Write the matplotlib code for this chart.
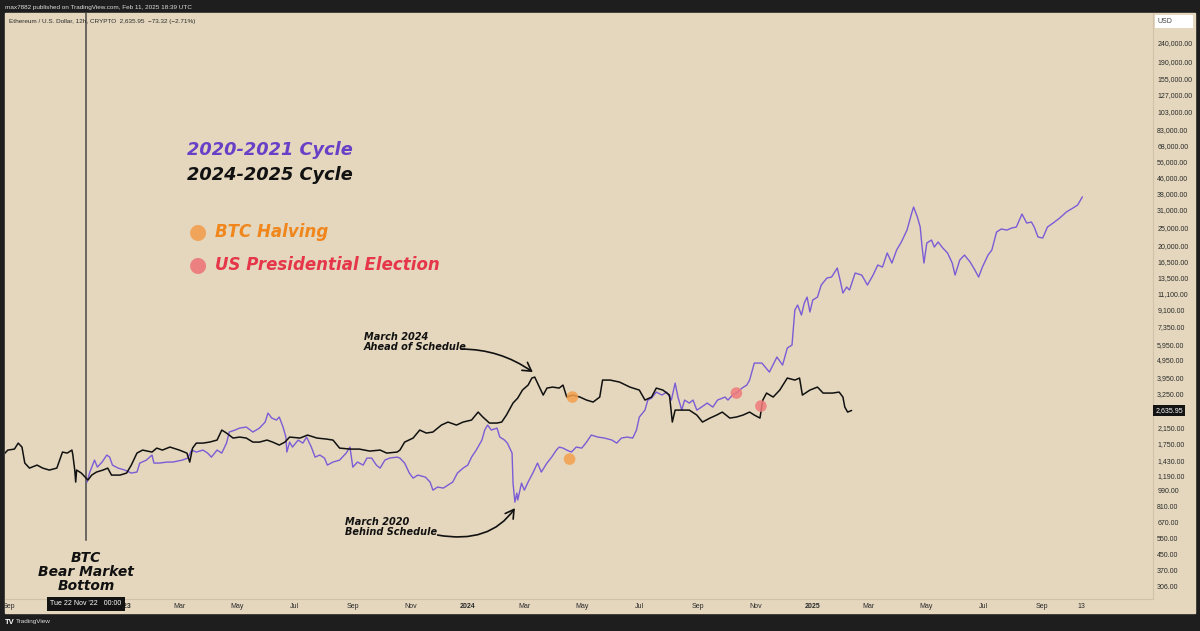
import numpy as np
import matplotlib
matplotlib.use('Agg')
import matplotlib.pyplot as plt

# ---- data ----
base_date = np.datetime64('2022-11-22')   # BTC bear market bottom

# ETH 2024-2025 cycle (black), days from base_date -> price
black_days = [-86, -83, -76, -72, -68, -65, -60, -52, -46, -39,
              -31, -28, -25, -20, -15, -14, -12, -11, -10, -5,
              0, 2, 6, 11, 18, 23, 27, 36, 43, 48,
              54, 60, 70, 75, 81, 89, 99, 107, 110, 113,
              117, 124, 131, 139, 144, 149, 156, 163, 170, 177,
              184, 192, 198, 205, 211, 216, 227, 235, 245, 255,
              262, 269, 280, 290, 301, 312, 319, 330, 333, 338,
              347, 354, 361, 368, 377, 384, 393, 400, 409, 416,
              421, 428, 436, 441, 446, 453, 458, 463, 469, 473,
              476, 479, 485, 489, 495, 502, 506, 510, 516, 524,
              531, 538, 545, 548, 556, 566, 577, 587, 593, 600,
              605, 612, 619, 622, 625, 632, 640, 648, 654, 662,
              669, 675, 683, 690, 697, 704, 709, 715, 718, 722,
              729, 736, 744, 752, 757, 760, 768, 776, 782, 792,
              799, 803, 805, 808, 812]
black_prices = [1564, 1623, 1643, 1768, 1684, 1384, 1301, 1350, 1301, 1270,
                1301, 1435, 1584, 1564, 1623, 1527, 1270, 1096, 1270, 1224,
                1151, 1123, 1194, 1239, 1270, 1301, 1194, 1194, 1224, 1350,
                1564, 1623, 1584, 1663, 1623, 1684, 1623, 1564, 1401, 1663,
                1768, 1768, 1790, 1835, 2075, 2000, 1881, 1904, 1881, 1790,
                1790, 1835, 1790, 1726, 1790, 1904, 1881, 1951, 1881, 1858,
                1835, 1663, 1643, 1643, 1603, 1623, 1564, 1584, 1623, 1790,
                1881, 2075, 2000, 2025, 2206, 2289, 2206, 2289, 2346, 2587,
                2434, 2261, 2261, 2289, 2494, 2890, 3073, 3389, 3604, 3928,
                3976, 3693, 3188, 3473, 3516, 3473, 3604, 3111, 3188, 3111,
                2998, 2926, 3111, 3832, 3832, 3739, 3516, 3389, 2998, 3111,
                3473, 3389, 3188, 2289, 2651, 2651, 2651, 2494, 2289, 2404,
                2494, 2587, 2404, 2434, 2494, 2587, 2494, 2404, 2998, 3267,
                3111, 3389, 3928, 3832, 3928, 3188, 3389, 3516, 3267, 3267,
                3307, 3111, 2751, 2587, 2636]

# 2020-2021 cycle overlay (purple)
purple_days = [1, 4, 9, 12, 17, 22, 25, 28, 34, 41,
               48, 54, 57, 64, 70, 72, 78, 86, 92, 102,
               108, 112, 117, 124, 129, 133, 139, 144, 149, 152,
               158, 163, 170, 177, 184, 190, 193, 197, 202, 205,
               209, 212, 213, 216, 219, 225, 230, 234, 239, 243,
               248, 253, 256, 262, 269, 276, 280, 283, 288, 294,
               298, 303, 308, 312, 317, 322, 330, 333, 338, 343,
               347, 352, 360, 365, 368, 373, 379, 384, 389, 394,
               400, 405, 409, 414, 420, 423, 426, 430, 436, 439,
               444, 447, 452, 453, 455, 457, 458, 462, 465, 469,
               474, 479, 483, 489, 494, 499, 502, 506, 510, 515,
               520, 526, 531, 536, 543, 550, 558, 563, 568, 574,
               580, 584, 587, 593, 596, 600, 605, 611, 616, 621,
               625, 628, 632, 635, 640, 644, 648, 653, 659, 665,
               670, 678, 681, 686, 690, 696, 701, 704, 709, 717,
               725, 733, 739, 744, 749, 752, 755, 759, 762, 765,
               768, 771, 776, 780, 786, 791, 797, 800, 803, 807,
               810, 816, 823, 829, 835, 840, 845, 850, 855, 860,
               865, 871, 876, 878, 882, 885, 887, 889, 892, 897,
               900, 904, 909, 914, 919, 922, 927, 932, 938, 943,
               947, 951, 957, 961, 966, 971, 977, 982, 987, 993,
               998, 1003, 1006, 1010, 1015, 1020, 1026, 1033, 1040, 1047,
               1052, 1057]
purple_prices = [1096, 1239, 1435, 1317, 1401, 1527, 1489, 1350, 1301, 1270,
                 1224, 1239, 1384, 1435, 1527, 1384, 1384, 1401, 1401, 1435,
                 1471, 1623, 1584, 1623, 1564, 1489, 1623, 1564, 1768, 2025,
                 2075, 2126, 2153, 2025, 2126, 2289, 2556, 2404, 2346, 2434,
                 2153, 1904, 1584, 1790, 1684, 1835, 1768, 1904, 1684, 1489,
                 1527, 1471, 1350, 1401, 1435, 1564, 1684, 1317, 1401, 1350,
                 1471, 1471, 1350, 1301, 1435, 1471, 1489, 1471, 1384, 1224,
                 1151, 1194, 1165, 1096, 993, 1031, 1018, 1056, 1096, 1224,
                 1301, 1350, 1489, 1623, 1835, 2075, 2206, 2075, 2126, 1904,
                 1835, 1768, 1564, 1082, 857, 957, 879, 1082, 993, 1096,
                 1224, 1384, 1239, 1384, 1489, 1623, 1684, 1663, 1623, 1584,
                 1684, 1663, 1790, 1951, 1904, 1881, 1835, 1768, 1881, 1904,
                 1881, 2075, 2434, 2651, 2998, 3073, 3307, 3188, 3307, 2998,
                 3693, 3111, 2651, 2998, 2890, 2998, 2651, 2751, 2890, 2751,
                 2998, 3111, 2998, 3188, 3267, 3473, 3604, 3832, 4721, 4721,
                 4227, 5083, 4607, 5676, 5890, 9050, 9620, 8510, 9860, 10610,
                 8830, 10230, 10610, 12300, 13400, 13570, 15150, 13080, 11150, 12000,
                 11570, 14250, 13900, 12300, 13900, 15720, 15340, 18220, 16110, 18900,
                 20850, 24150, 29760, 32030, 28330, 25060, 19610, 16110, 20600, 21370,
                 19610, 20850, 19370, 18220, 16110, 13900, 16720, 17770, 16310, 14790,
                 13570, 15340, 17770, 18900, 23570, 24460, 24150, 24760, 25060, 29390,
                 26320, 26650, 25060, 22170, 21900, 25060, 26320, 27990, 30120, 31640,
                 32830, 36220]

halving_days = [513, 516]
halving_prices = [1453, 3111]
election_days = [690, 716]
election_prices = [3267, 2786]

last_price = 2635.95

price_ticks = [306, 370, 450, 550, 670, 810, 990, 1190, 1430, 1750, 2150,
               3250, 3950, 4950, 5950, 7350, 9100, 11100, 13500, 16500, 20000,
               25000, 31000, 38000, 46000, 56000, 68000, 83000, 103000,
               127000, 155000, 190000, 240000]

# (the Nov '22 label sits under the crosshair date box, so it is left out)
month_ticks = ['2022-09-01', '2023-01-01', '2023-03-01', '2023-05-01',
               '2023-07-01', '2023-09-01', '2023-11-01', '2024-01-01', '2024-03-01',
               '2024-05-01', '2024-07-01', '2024-09-01', '2024-11-01', '2025-01-01',
               '2025-03-01', '2025-05-01', '2025-07-01', '2025-09-01', '2025-10-13']
month_labels = ['Sep', '2023', 'Mar', 'May', 'Jul', 'Sep', 'Nov', '2024', 'Mar',
                'May', 'Jul', 'Sep', 'Nov', '2025', 'Mar', 'May', 'Jul', 'Sep', '13']


def to_date(days):
    return base_date + np.array(days, dtype='timedelta64[D]')


bg = '#e4d7bd'
dark = '#1e1e1e'
purple = '#7b5cd6'
ui_font = 'Liberation Sans'
W, H = 1200, 631

fig = plt.figure(figsize=(12, 6.31), dpi=100, facecolor=dark)
fig.patches.append(plt.Rectangle((5 / W, 18 / H), 1190 / W, 600 / H,
                                 transform=fig.transFigure, color=bg, zorder=-10))
ax = fig.add_axes([5 / W, 32 / H, 1148 / W, 586 / H])
ax.set_facecolor(bg)
for s in ['top', 'left']:
    ax.spines[s].set_visible(False)
for s in ['right', 'bottom']:
    ax.spines[s].set_color('#d0c3a9')
    ax.spines[s].set_linewidth(0.8)

ax.plot(to_date(purple_days), purple_prices, color=purple, lw=1.0, zorder=3)
ax.plot(to_date(black_days), black_prices, color='#111111', lw=1.1, zorder=4)
ax.scatter(to_date(halving_days), halving_prices, s=70, color='#f4a04c',
           alpha=0.85, edgecolors='none', zorder=5)
ax.scatter(to_date(election_days), election_prices, s=70, color='#ef7b7b',
           alpha=0.85, edgecolors='none', zorder=5)

ax.set_yscale('log')
ax.set_ylim(261, 346500)
ax.set_xlim(base_date - np.timedelta64(86, 'D'), base_date + np.timedelta64(1132, 'D'))
ax.yaxis.tick_right()
ax.set_yticks(price_ticks)
ax.set_yticklabels([f'{v:,.2f}' for v in price_ticks])
ax.yaxis.set_minor_locator(matplotlib.ticker.NullLocator())
ax.tick_params(axis='y', length=0, pad=3, labelsize=5, labelcolor='#2a2a2a')

ax.set_xticks(np.array(month_ticks, dtype='datetime64[D]'))
ax.set_xticklabels(month_labels)
ax.tick_params(axis='x', length=0, pad=3, labelsize=5, labelcolor='#2a2a2a')
for lab in ax.get_xticklabels() + ax.get_yticklabels():
    lab.set_family(ui_font)
    if lab.get_text().startswith('20') and len(lab.get_text()) == 4:
        lab.set_fontweight('bold')

# crosshair at the bottom
ax.axvline(base_date, ymin=0.1, ymax=1, color='#4a4a4a', lw=1.1, zorder=2)
ax.text(base_date, -0.002, "Tue 22 Nov '22   00:00", transform=ax.get_xaxis_transform(),
        ha='center', va='top', fontsize=5, family=ui_font, color='white', clip_on=False,
        zorder=10, bbox=dict(boxstyle='square,pad=0.5', fc='#131313', ec='none'))
ax.text(1.002, last_price, f'{last_price:,.2f}', transform=ax.get_yaxis_transform(),
        ha='left', va='center', fontsize=5, family=ui_font, color='white', clip_on=False,
        zorder=10, bbox=dict(boxstyle='square,pad=0.35', fc='#131313', ec='none'))

# annotations
bi = dict(fontweight='bold', fontstyle='italic', color='#111111')
arrow = dict(arrowstyle='->,head_length=0.6,head_width=0.35', lw=1.2, color='#111111',
             shrinkA=0, shrinkB=0)
ax.text(to_date(295), 6108, 'March 2024\nAhead of Schedule', ha='left', va='center',
        fontsize=7, linespacing=1.0, **bi)
ax.annotate('', xy=(to_date(474), 4227), xytext=(to_date(398), 5606),
            arrowprops=dict(connectionstyle='angle3,angleA=0,angleB=-35', **arrow))
ax.text(to_date(275), 630, 'March 2020\nBehind Schedule', ha='left', va='center',
        fontsize=7, linespacing=1.0, **bi)
ax.annotate('', xy=(to_date(455), 796), xytext=(to_date(373), 572),
            arrowprops=dict(connectionstyle='angle3,angleA=-10,angleB=55', **arrow))
ax.text(base_date, 363, 'BTC\nBear Market\nBottom', ha='center', va='center',
        fontsize=10, linespacing=0.97, **bi)

# legend block
fig.text(187 / W, 1 - 150 / H, '2020-2021 Cycle', fontsize=12.8, color='#6a3fc7',
         fontweight='bold', fontstyle='italic', va='center')
fig.text(187 / W, 1 - 175 / H, '2024-2025 Cycle', fontsize=12.8, color='#111111',
         fontweight='bold', fontstyle='italic', va='center')
fig.text(198 / W, 1 - 232 / H, '\u25cf', fontsize=15, color='#f0a45a', ha='center', va='center')
fig.text(215 / W, 1 - 232 / H, 'BTC Halving', fontsize=12, color='#f0861c',
         fontweight='bold', fontstyle='italic', va='center')
fig.text(198 / W, 1 - 265 / H, '\u25cf', fontsize=15, color='#ec8080', ha='center', va='center')
fig.text(215 / W, 1 - 265 / H, 'US Presidential Election', fontsize=12, color='#e5364a',
         fontweight='bold', fontstyle='italic', va='center')

# TradingView chrome
fig.text(5 / W, 1 - 7 / H, 'max7882 published on TradingView.com, Feb 11, 2025 18:39 UTC',
         fontsize=4.6, family=ui_font, color='#dddddd', va='center')
fig.text(9 / W, 1 - 21 / H, 'Ethereum / U.S. Dollar, 12h, CRYPTO  2,635.95  \u221273.32 (\u22122.71%)',
         fontsize=4.6, family=ui_font, color='#2a2a2a', va='center')
fig.patches.append(plt.Rectangle((1155 / W, 1 - 28 / H), 38 / W, 13 / H,
                                 transform=fig.transFigure, fc='white', ec='none', zorder=1))
fig.text(1158 / W, 1 - 21.5 / H, 'USD', fontsize=5, family=ui_font, color='#444444', va='center')
fig.text(5 / W, 1 - 622 / H, 'TV', fontsize=5.5, family=ui_font, color='white',
         fontweight='bold', va='center')
fig.text(16 / W, 1 - 622 / H, 'TradingView', fontsize=4.6, family=ui_font, color='#dddddd',
         va='center')

fig.savefig('out.png', dpi=100, facecolor=dark)
